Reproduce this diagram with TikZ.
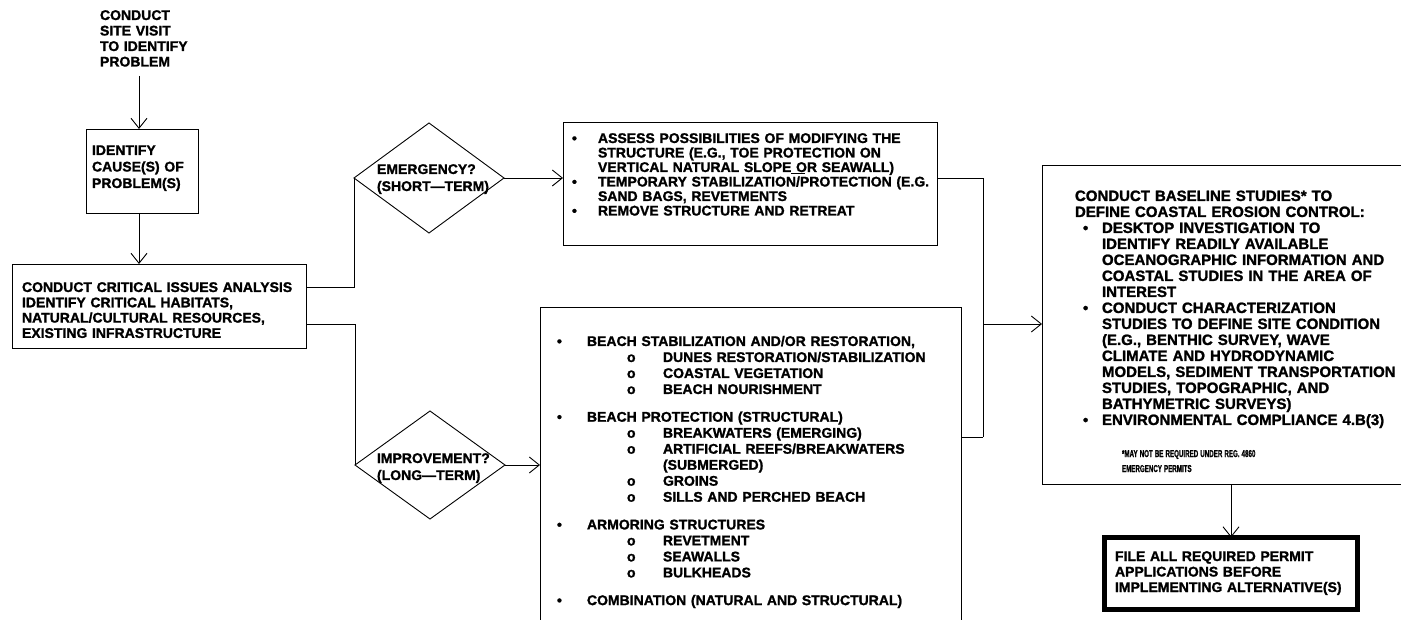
\documentclass[tikz,border=0pt]{standalone}
\usepackage{fontspec}
\setmainfont{Liberation Sans}[BoldFeatures={FakeBold=1.4}]
\usetikzlibrary{arrows.meta,shapes.geometric}
\newcommand\fs[2]{\fontsize{#1}{#2}\selectfont}
\newcommand\bulw[1]{\makebox[#1][l]{•}}
\newcommand\subo{\hspace*{70pt}\makebox[36pt][l]{o}}
\newcommand\subi{\hspace*{106pt}}
\begin{document}
\begin{tikzpicture}[x=1pt,y=-1pt,line width=0.9pt,
  boxn/.style={draw, rectangle, inner sep=0pt, outer sep=0pt, anchor=north west},
  dia/.style={draw, diamond, inner sep=0pt, outer sep=0pt},
  txt/.style={inner sep=0pt, outer sep=0pt, anchor=base west, align=left, text width=#1},
  txt/.default=400pt,
  arr/.style={-{Straight Barb[length=10pt,width=16pt]}}]
\fill[white] (0,0) rectangle (1401,620);
\useasboundingbox (0,0) rectangle (1401,620);
\begin{scope}
\clip (0,0) rectangle (1401,620);
% top text
\node[txt, font=\bfseries\fs{14}{15.5}] (site) at (100,20) {CONDUCT\\SITE VISIT\\TO IDENTIFY\\PROBLEM};
\coordinate (siteb) at (139,76);
% cause box
\node[boxn, minimum width=112pt, minimum height=84pt] (cause) at (86,129) {};
\node[txt, font=\bfseries\fs{14}{16.5}] (causet) at (92,155) {IDENTIFY\\CAUSE(S) OF\\PROBLEM(S)};
% critical issues box
\node[boxn, minimum width=294pt, minimum height=84pt] (crit) at (12,264) {};
\node[txt, font=\bfseries\fs{14}{15.3}] (critt) at (22,292) {CONDUCT CRITICAL ISSUES ANALYSIS\\IDENTIFY CRITICAL HABITATS,\\NATURAL/CULTURAL RESOURCES,\\EXISTING INFRASTRUCTURE};
% diamonds
\node[dia, minimum width=150pt, minimum height=110pt] (d1) at (429,178) {};
\node[txt, font=\bfseries\fs{14}{17}] (d1t) at (377,174) {EMERGENCY?\\(SHORT—TERM)};
\node[dia, minimum width=150pt, minimum height=108pt] (d2) at (430,465) {};
\node[txt, font=\bfseries\fs{14}{17}] (d2t) at (377,463) {IMPROVEMENT?\\(LONG—TERM)};
% short-term box
\node[boxn, minimum width=374pt, minimum height=123pt] (short) at (563,122) {};
\node[txt, font=\bfseries\fs{14}{14.5}] (shortt) at (572,143) {\bulw{26pt}ASSESS POSSIBILITIES OF MODIFYING THE\\
\hspace*{26pt}STRUCTURE (E.G., TOE PROTECTION ON\\
\hspace*{26pt}VERTICAL NATURAL SLOPE\rlap{\rule[-2pt]{14pt}{0.9pt}} OR SEAWALL)\\
\bulw{26pt}TEMPORARY STABILIZATION/PROTECTION (E.G.\\
\hspace*{26pt}SAND BAGS, REVETMENTS\\
\bulw{26pt}REMOVE STRUCTURE AND RETREAT};
% long-term box
\node[boxn, minimum width=421pt, minimum height=330pt] (long) at (540,307) {};
\node[txt, font=\bfseries\fs{14}{16}] (longt) at (557,346) {\bulw{30pt}BEACH STABILIZATION AND/OR RESTORATION,\\
\subo DUNES RESTORATION/STABILIZATION\\
\subo COASTAL VEGETATION\\
\subo BEACH NOURISHMENT\\[11.7pt]
\bulw{30pt}BEACH PROTECTION (STRUCTURAL)\\
\subo BREAKWATERS (EMERGING)\\
\subo ARTIFICIAL REEFS/BREAKWATERS\\
\subi (SUBMERGED)\\
\subo GROINS\\
\subo SILLS AND PERCHED BEACH\\[11.7pt]
\bulw{30pt}ARMORING STRUCTURES\\
\subo REVETMENT\\
\subo SEAWALLS\\
\subo BULKHEADS\\[11.7pt]
\bulw{30pt}COMBINATION (NATURAL AND STRUCTURAL)};
% baseline studies box
\node[boxn, minimum width=380pt, minimum height=319pt] (base) at (1042,165) {};
\node[txt, font=\bfseries\fs{15}{16}] (baset) at (1075,201) {CONDUCT BASELINE STUDIES* TO\\
DEFINE COASTAL EROSION CONTROL:\\
\hspace*{8pt}\bulw{19pt}DESKTOP INVESTIGATION TO\\
\hspace*{27pt}IDENTIFY READILY AVAILABLE\\
\hspace*{27pt}OCEANOGRAPHIC INFORMATION AND\\
\hspace*{27pt}COASTAL STUDIES IN THE AREA OF\\
\hspace*{27pt}INTEREST\\
\hspace*{8pt}\bulw{19pt}CONDUCT CHARACTERIZATION\\
\hspace*{27pt}STUDIES TO DEFINE SITE CONDITION\\
\hspace*{27pt}(E.G., BENTHIC SURVEY, WAVE\\
\hspace*{27pt}CLIMATE AND HYDRODYNAMIC\\
\hspace*{27pt}MODELS, SEDIMENT TRANSPORTATION\\
\hspace*{27pt}STUDIES, TOPOGRAPHIC, AND\\
\hspace*{27pt}BATHYMETRIC SURVEYS)\\
\hspace*{8pt}\bulw{19pt}ENVIRONMENTAL COMPLIANCE 4.B(3)};
\node[txt, font=\bfseries\fs{10}{15}] (foot) at (1122,457) {\scalebox{0.62}[1]{*MAY NOT BE REQUIRED UNDER REG. 4860}\\\scalebox{0.62}[1]{EMERGENCY PERMITS}};
% permit box
\node[boxn, line width=5pt, minimum width=253pt, minimum height=72pt] (permit) at (1104.5,537.5) {};
\node[txt, font=\bfseries\fs{14}{15.5}] (permitt) at (1115,561) {FILE ALL REQUIRED PERMIT\\APPLICATIONS BEFORE\\IMPLEMENTING ALTERNATIVE(S)};
% connectors
\draw[arr] (siteb) -- (siteb |- cause.north);
\draw[arr] (siteb |- cause.south) -- (siteb |- crit.north);
\draw (crit.east |- 0,287) -| (d1.west);
\draw (crit.east |- 0,324) -| (d2.west);
\draw[arr] (d1.east) -- (d1.east -| short.west);
\draw[arr] (d2.east) -- (d2.east -| long.west);
\coordinate (j) at (983,437);
\draw (short.east |- d1.east) -| (j);
\draw (long.east |- j) -- (j);
\coordinate (m) at (983,324);
\draw[arr] (m) -- (m -| base.west);
\draw[arr] (permit.north |- base.south) -- (permit.north);
\end{scope}
\end{tikzpicture}
\end{document}
